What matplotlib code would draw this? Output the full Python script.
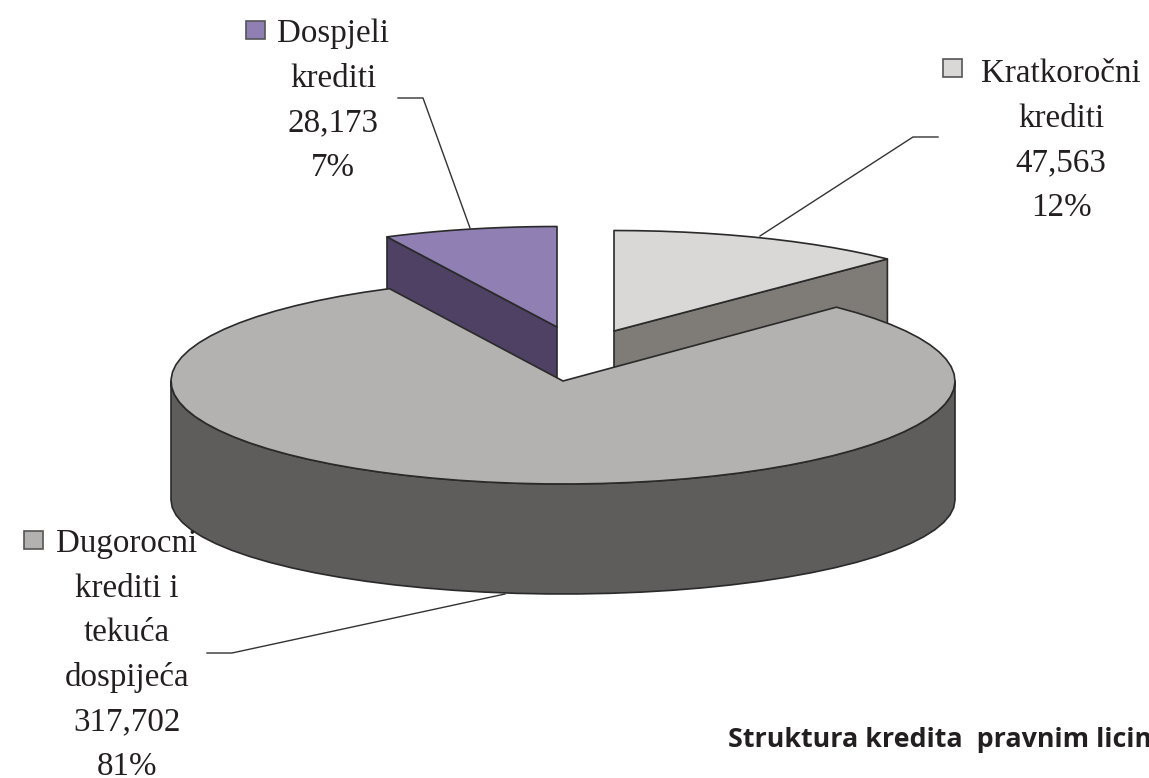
import numpy as np
import matplotlib
matplotlib.use("Agg")
import matplotlib.pyplot as plt
from matplotlib.patches import Polygon, Rectangle

# Data
names = ["Kratkoročni\nkrediti", "Dugorocni\nkrediti i\ntekuća\ndospijeća", "Dospjeli\nkrediti"]
values = [47563, 317702, 28173]
top_colors = ["#d9d8d6", "#b3b2b0", "#8f7fb3"]
side_colors = ["#7f7b77", "#5f5d5c", "#4f4163"]
title_text = "Struktura kredita  pravnim licima"

# Geometry in pixels of the reference
A_MAIN, B_MAIN = 392, 103
A_BACK = {0: 392, 2: 384}
B_BACK = 100.5
DEPTH = 110
WALL_CENTER_Y, WALL_B = 500, 94
centers = [(614, 331), (563, 381), (557, 327)]
edge_shift_deg = [0, 0.7, -0.5, 0]
baselines = [(1061, 82), (127, 552), (333, 42)]
swatches = [(943, 59), (24, 531), (246, 21)]
leaders = [[(938, 137), (913, 137), (760, 236)],
           [(207, 653), (232, 653), (505, 594)],
           [(398, 98), (423, 98), (470, 228)]]
LINE = 44.6

fig = plt.figure(figsize=(11.49, 7.78), dpi=100)
ax = fig.add_axes([0, 0, 1, 1])
ax.set_xlim(0, 1149)
ax.set_ylim(778, 0)
ax.axis("off")

total = sum(values)
edges = np.concatenate([[0], np.cumsum(values)]) / total * 2 * np.pi + np.radians(edge_shift_deg)


def rim(c, a, b, t0, t1, n=70):
    t = np.linspace(t0, t1, n)
    return np.column_stack([c[0] + a * np.sin(t), c[1] - b * np.cos(t)])


def add_poly(pts, color, z):
    ax.add_patch(Polygon(pts, closed=True, facecolor=color, edgecolor="#2a2a2a",
                         linewidth=1.2, joinstyle="round", zorder=z))


# Exploded slices: cut faces first, the main slice then hides their lower parts
for i in (0, 2):
    c = centers[i]
    t_cut = edges[i + 1] if i == 0 else edges[i]
    outer = rim(c, A_BACK[i], B_BACK, t_cut, t_cut, n=1)[0]
    add_poly([c, outer, (outer[0], outer[1] + DEPTH), (c[0], c[1] + DEPTH)], side_colors[i], 1)
    pts = np.vstack([[c], rim(c, A_BACK[i], B_BACK, edges[i], edges[i + 1], n=14)])
    add_poly(pts, top_colors[i], 2)

# Main slice: outer wall then top face
c = centers[1]
upper = rim(c, A_MAIN, B_MAIN, np.pi / 2, 3 * np.pi / 2, n=50)
lower = rim((c[0], WALL_CENTER_Y), A_MAIN, WALL_B, np.pi / 2, 3 * np.pi / 2, n=40)
add_poly(np.vstack([upper, lower[::-1]]), side_colors[1], 3)
add_poly(np.vstack([[c], rim(c, A_MAIN, B_MAIN, edges[1], edges[2])]), top_colors[1], 4)

# Leader lines
for pts in leaders:
    p = np.array(pts)
    ax.plot(p[:, 0], p[:, 1], color="#333333", lw=1.0, zorder=5)

# Labels with swatches
for name, v, xy, sw, col in zip(names, values, baselines, swatches, top_colors):
    lines = name.split("\n") + [f"{v:,}", f"{v / total * 100:.0f}%"]
    for k, s in enumerate(lines):
        ax.text(xy[0], xy[1] + k * LINE, s, family="Liberation Serif", fontsize=23.8,
                ha="center", va="baseline", color="#231f20", zorder=6)
    ax.add_patch(Rectangle(sw, 19, 18, facecolor=col, edgecolor="#555555", lw=1.2, zorder=6))

# Title runs off the right edge, as in the reference
ax.text(728, 747, title_text, family="Open Sans", fontweight="bold", fontsize=19.4,
        ha="left", va="baseline", color="#231f20", zorder=6)

fig.savefig("out.png", dpi=100)
